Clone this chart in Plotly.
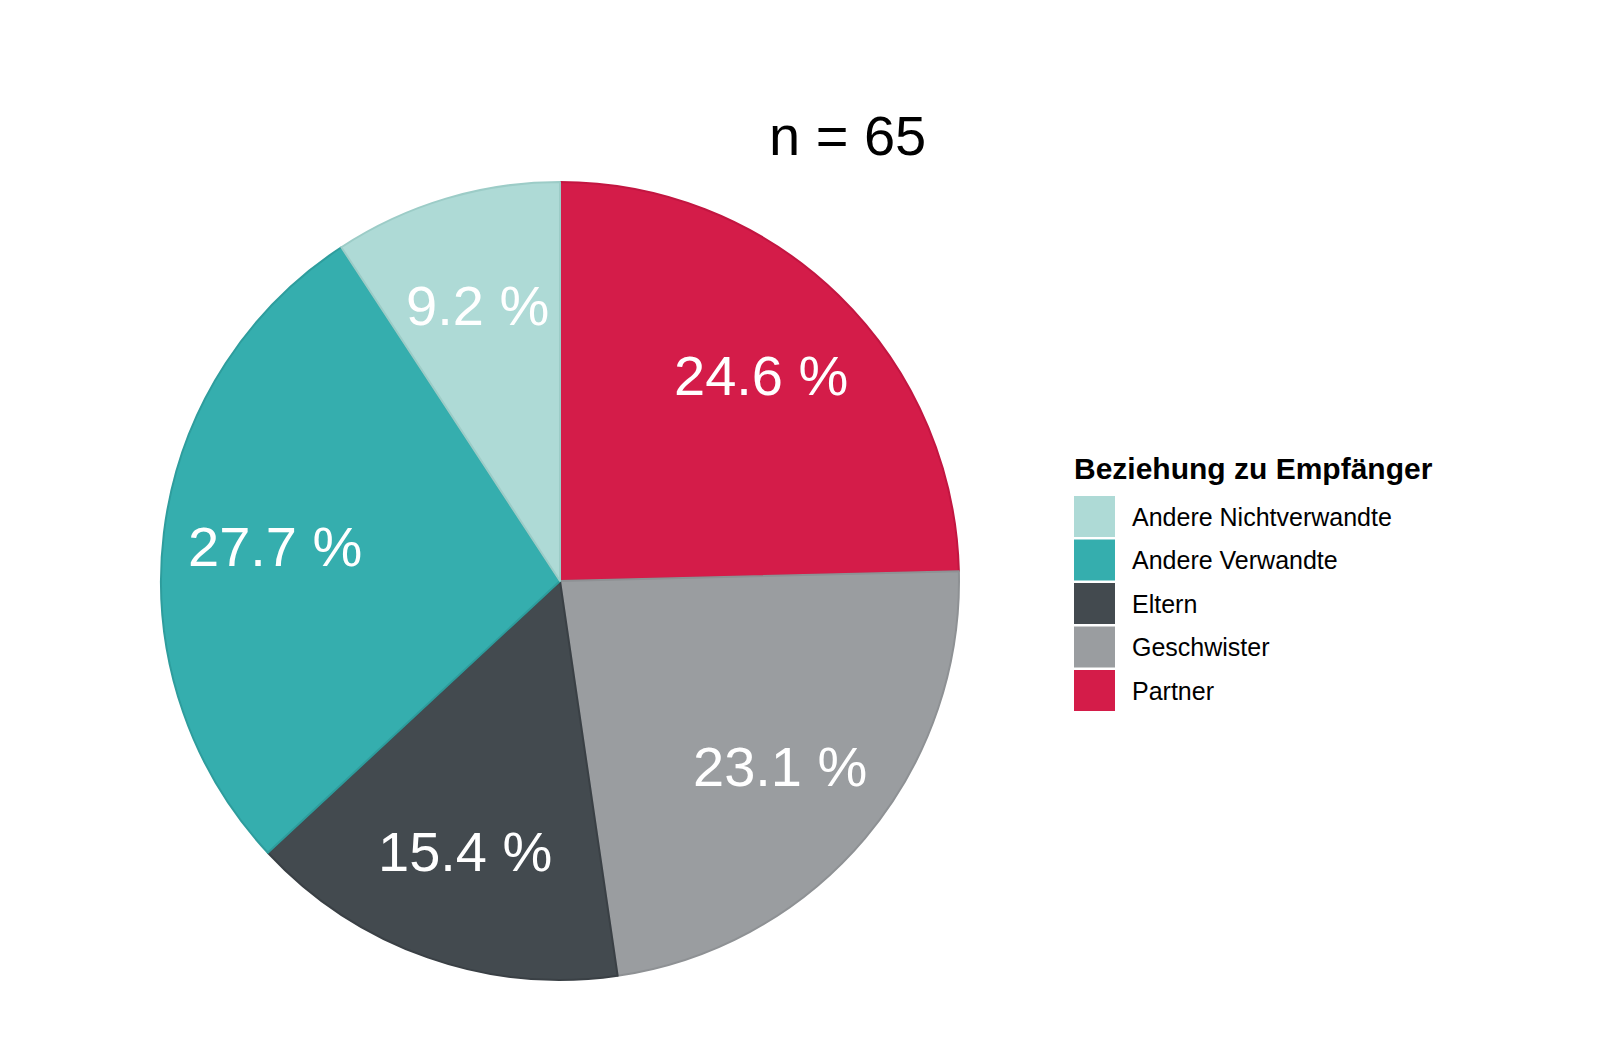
import math
import plotly.graph_objects as go

# Data (clockwise from 12 o'clock)
categories = ["Partner", "Geschwister", "Eltern", "Andere Verwandte", "Andere Nichtverwandte"]
counts = [16, 15, 10, 18, 6]
percent_labels = ["24.6 %", "23.1 %", "15.4 %", "27.7 %", "9.2 %"]
colors = ["#D41C49", "#9A9DA0", "#434A4F", "#35AEAE", "#AEDAD6"]
line_colors = ["#C21641", "#8E9194", "#3A4045", "#2E9D9D", "#9CCCC7"]
legend_order = ["Andere Nichtverwandte", "Andere Verwandte", "Eltern", "Geschwister", "Partner"]
title_text = "n = 65"
legend_title = "Beziehung zu Empfänger"

# figure fits inside the page body (8px default margins)
OFF = 8
W, H = 1602 - 2 * OFF, 1062 - 2 * OFF
FONT = "Liberation Sans, Arial, sans-serif"


def px(x):
    return (x - OFF) / W


def py(y):
    return 1 - (y - OFF) / H


cx, cy, R = 560, 581, 399  # pie center / radius (page pixels)

fig = go.Figure(go.Pie(
    labels=categories,
    values=counts,
    sort=False,
    direction="clockwise",
    rotation=0,
    textinfo="none",
    marker=dict(colors=colors, line=dict(color=line_colors, width=2)),
    domain=dict(x=[px(cx - R), px(cx + R)], y=[py(cy + R), py(cy - R)]),
    showlegend=False,
))

annotations = []
total = sum(counts)
cum = 0
for v, lab in zip(counts, percent_labels):
    mid = (cum + v / 2) / total * 2 * math.pi
    cum += v
    rr = 0.72 * R
    annotations.append(dict(
        x=px(cx + rr * math.sin(mid)), y=py(cy - rr * math.cos(mid)),
        xref="paper", yref="paper",
        text=lab, showarrow=False,
        font=dict(family=FONT, size=56, color="white"),
        xanchor="center", yanchor="middle",
    ))

# Title
annotations.append(dict(
    x=px(848), y=py(135), xref="paper", yref="paper",
    text=title_text, showarrow=False,
    font=dict(family=FONT, size=56, color="black"),
    xanchor="center", yanchor="middle",
))

# Legend
lx, ly0, sw, pitch = 1074, 496, 41, 43.5
annotations.append(dict(
    x=px(lx - 2), y=py(468), xref="paper", yref="paper",
    text="<b>" + legend_title + "</b>", showarrow=False,
    font=dict(family=FONT, size=30, color="black"),
    xanchor="left", yanchor="middle",
))
shapes = []
for i, name in enumerate(legend_order):
    col = colors[categories.index(name)]
    top = ly0 + i * pitch
    shapes.append(dict(
        type="rect", xref="paper", yref="paper",
        x0=px(lx), x1=px(lx + sw),
        y0=py(top + sw), y1=py(top),
        fillcolor=col, line=dict(width=0),
    ))
    annotations.append(dict(
        x=px(1130), y=py(top + sw / 2), xref="paper", yref="paper",
        text=name, showarrow=False,
        font=dict(family=FONT, size=25, color="black"),
        xanchor="left", yanchor="middle",
    ))

fig.update_layout(
    width=W, height=H,
    margin=dict(l=0, r=0, t=0, b=0),
    paper_bgcolor="white",
    plot_bgcolor="white",
    annotations=annotations,
    shapes=shapes,
)

fig.write_html("out.html")
